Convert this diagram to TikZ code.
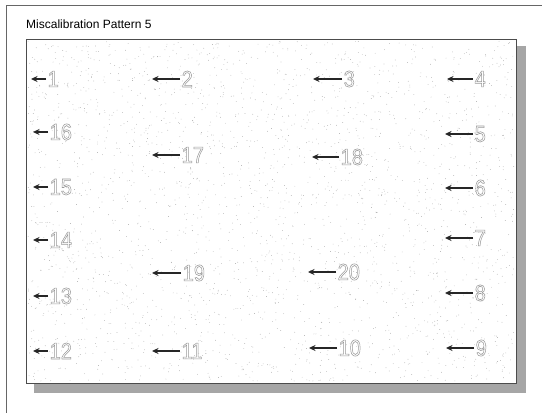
\documentclass[tikz,border=0pt]{standalone}
\usepackage{fontspec}
\setmainfont{Liberation Sans}
\usetikzlibrary{arrows.meta}

% hollow digits
\newcommand{\hollow}[1]{\special{pdf:literal direct 1 Tr 0.5 w}#1\special{pdf:literal direct 0 Tr}}

\begin{document}
\begin{tikzpicture}[
    x=1pt, y=-1pt,
    pointer/.style={draw=black!85, line width=1.5pt, -{Stealth[length=6.5pt, width=6pt]}},
    num/.style={anchor=west, inner sep=1.5pt, text=black!40, font=\fontsize{20}{20}\selectfont, yscale=1.15},
    frameline/.style={draw=black!60, line width=0.8pt}
]
    \useasboundingbox (0,0) rectangle (542,413);

    % Outer frame and title
    \coordinate (corner) at (6,5);
    \draw[frameline] (542,5) -- (corner) -- (6,413);
    \node[anchor=west, inner sep=0pt, font=\fontsize{12}{12}\selectfont] (title) at (26,24) {Miscalibration Pattern 5};

    % Panel with drop shadow
    \fill[black!35] (34,46) rectangle (526,393);
    \draw[black!70, fill=white, line width=0.8pt] (26,39) rectangle (516,383);

    % Speckle
    \pgfmathsetseed{5}
    \foreach \k in {1,...,2600}
        \fill[black!40] ({28+486*rnd},{41+340*rnd}) circle (0.35pt);

    % Arrow tips
    \coordinate (tip1)  at (31,79);
    \coordinate (tip2)  at (152,79);
    \coordinate (tip3)  at (313,79);
    \coordinate (tip4)  at (447,79);
    \coordinate (tip16) at (33,132);
    \coordinate (tip5)  at (445,134);
    \coordinate (tip17) at (152,155);
    \coordinate (tip18) at (312,157);
    \coordinate (tip15) at (33,187);
    \coordinate (tip6)  at (445,188);
    \coordinate (tip14) at (33,240);
    \coordinate (tip7)  at (445,238);
    \coordinate (tip19) at (152,273);
    \coordinate (tip20) at (308,272);
    \coordinate (tip13) at (33,296);
    \coordinate (tip8)  at (445,293);
    \coordinate (tip12) at (33,351);
    \coordinate (tip11) at (152,351);
    \coordinate (tip10) at (309,348);
    \coordinate (tip9)  at (446,348);

    % Numbers
    \node[num] (n1)  at (46,79)   {\hollow{1}};
    \node[num] (n2)  at (180,79)  {\hollow{2}};
    \node[num] (n3)  at (342,79)  {\hollow{3}};
    \node[num] (n4)  at (473,79)  {\hollow{4}};
    \node[num] (n16) at (48,132)  {\hollow{16}};
    \node[num] (n5)  at (473,134) {\hollow{5}};
    \node[num] (n17) at (180,155) {\hollow{17}};
    \node[num] (n18) at (339,157) {\hollow{18}};
    \node[num] (n15) at (48,187)  {\hollow{15}};
    \node[num] (n6)  at (473,188) {\hollow{6}};
    \node[num] (n14) at (48,240)  {\hollow{14}};
    \node[num] (n7)  at (473,238) {\hollow{7}};
    \node[num] (n19) at (181,273) {\hollow{19}};
    \node[num] (n20) at (336,272) {\hollow{20}};
    \node[num] (n13) at (48,296)  {\hollow{13}};
    \node[num] (n8)  at (473,293) {\hollow{8}};
    \node[num] (n12) at (48,351)  {\hollow{12}};
    \node[num] (n11) at (180,351) {\hollow{11}};
    \node[num] (n10) at (337,348) {\hollow{10}};
    \node[num] (n9)  at (474,348) {\hollow{9}};

    % Arrows
    \foreach \i in {1,...,20}
        \draw[pointer] (n\i.west) -- (tip\i);

\end{tikzpicture}
\end{document}
